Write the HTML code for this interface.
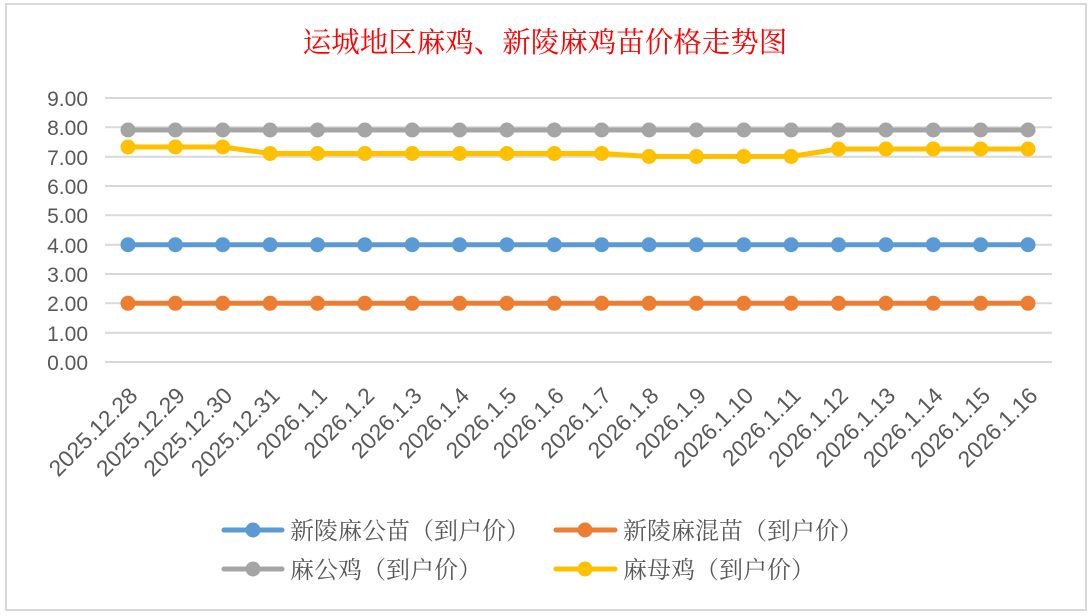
<!DOCTYPE html>
<html><head><meta charset="utf-8"><style>
body{margin:0;background:#fff;}
svg{display:block;}
</style></head><body>
<svg width="1090" height="616" xmlns="http://www.w3.org/2000/svg">
<rect x="0" y="0" width="1090" height="616" fill="#fff"/>
<rect x="6" y="4" width="1080" height="606" fill="#fff" stroke="#d9d9d9" stroke-width="2"/>
<text x="545" y="52" text-anchor="middle" font-family="'Noto Serif CJK SC',serif" font-size="28.5" fill="#ff0000">运城地区麻鸡、新陵麻鸡苗价格走势图</text>
<g stroke="#d9d9d9" stroke-width="2">
<line x1="105" x2="1052" y1="98" y2="98"/><line x1="105" x2="1052" y1="127.3" y2="127.3"/>
<line x1="105" x2="1052" y1="156.7" y2="156.7"/><line x1="105" x2="1052" y1="186" y2="186"/>
<line x1="105" x2="1052" y1="215.3" y2="215.3"/><line x1="105" x2="1052" y1="244.7" y2="244.7"/>
<line x1="105" x2="1052" y1="274" y2="274"/><line x1="105" x2="1052" y1="303.3" y2="303.3"/>
<line x1="105" x2="1052" y1="332.7" y2="332.7"/><line x1="105" x2="1052" y1="362" y2="362"/>
</g>
<g font-family="'Liberation Sans',sans-serif" font-size="21" fill="#595959" text-anchor="end">
<text x="88" y="106">9.00</text><text x="88" y="135">8.00</text><text x="88" y="165">7.00</text>
<text x="88" y="194">6.00</text><text x="88" y="223">5.00</text><text x="88" y="253">4.00</text>
<text x="88" y="282">3.00</text><text x="88" y="311">2.00</text><text x="88" y="341">1.00</text>
<text x="88" y="370">0.00</text>
</g>
<g id="lines" stroke-width="5" fill="none" stroke-linejoin="round">
<polyline stroke="#5b9bd5" points="128,244.7 1028,244.7"/>
<polyline stroke="#ed7d31" points="128,303.3 1028,303.3"/>
<polyline stroke="#a5a5a5" points="128,130 1028,130"/>
<polyline stroke="#ffc000" points="128,147 175,147 223,147 270,153.5 318,153.5 365,153.5 412,153.5 460,153.5 507,153.5 554,153.5 602,153.5 649,156.5 696,156.5 744,156.5 791,156.5 838,149 886,149 933,149 980,149 1028,149"/>
</g>
<g id="dots"></g>
<g id="xl" font-family="'Liberation Sans',sans-serif" font-size="22.8" fill="#595959" text-anchor="end"></g>
<g font-family="'Noto Serif CJK SC',serif" font-size="24" fill="#595959">
<line x1="224" x2="282" y1="530" y2="530" stroke="#5b9bd5" stroke-width="5" stroke-linecap="round"/><circle cx="253" cy="530" r="7.5" fill="#5b9bd5"/>
<text x="290" y="539">新陵麻公苗（到户价）</text>
<line x1="556" x2="615" y1="530" y2="530" stroke="#ed7d31" stroke-width="5" stroke-linecap="round"/><circle cx="585" cy="530" r="7.5" fill="#ed7d31"/>
<text x="623" y="539">新陵麻混苗（到户价）</text>
<line x1="224" x2="282" y1="569" y2="569" stroke="#a5a5a5" stroke-width="5" stroke-linecap="round"/><circle cx="253" cy="569" r="7.5" fill="#a5a5a5"/>
<text x="290" y="578">麻公鸡（到户价）</text>
<line x1="556" x2="615" y1="569" y2="569" stroke="#ffc000" stroke-width="5" stroke-linecap="round"/><circle cx="585" cy="569" r="7.5" fill="#ffc000"/>
<text x="623" y="578">麻母鸡（到户价）</text>
</g>
<script>
var labels=["2025.12.28","2025.12.29","2025.12.30","2025.12.31","2026.1.1","2026.1.2","2026.1.3","2026.1.4","2026.1.5","2026.1.6","2026.1.7","2026.1.8","2026.1.9","2026.1.10","2026.1.11","2026.1.12","2026.1.13","2026.1.14","2026.1.15","2026.1.16"];
var yy=[147,147,147,153.5,153.5,153.5,153.5,153.5,153.5,153.5,153.5,156.5,156.5,156.5,156.5,149,149,149,149,149];
var ns="http://www.w3.org/2000/svg",d=document.getElementById("dots"),xl=document.getElementById("xl");
for(var i=0;i<20;i++){var x=128+i*900/19;
 [["#5b9bd5",244.7],["#ed7d31",303.3],["#a5a5a5",130],["#ffc000",yy[i]]].forEach(function(s){var c=document.createElementNS(ns,"circle");c.setAttribute("cx",x);c.setAttribute("cy",s[1]);c.setAttribute("r",7.5);c.setAttribute("fill",s[0]);d.appendChild(c);});
 var t=document.createElementNS(ns,"text");t.setAttribute("transform","translate("+(x+11)+",397) rotate(-45)");t.textContent=labels[i];xl.appendChild(t);}
</script>
</svg>
</body></html>
